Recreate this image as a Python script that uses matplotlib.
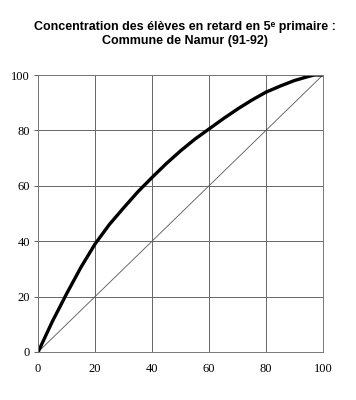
import matplotlib
matplotlib.use("Agg")
import matplotlib.pyplot as plt

# share of pupils (cumulative %) vs share of pupils behind (cumulative %)
x_pct = [0, 2.5, 5, 10, 15, 20, 25, 30, 35, 40, 45, 50, 55, 60, 65, 70, 75, 80, 85, 90, 95, 97, 100]
y_pct = [0, 5.5, 11, 21, 30.5, 39, 46, 52, 57.8, 63, 68, 72.6, 76.8, 80.5, 84.2, 87.7, 90.9, 93.8, 96, 98, 99.5, 100, 100]
ticks = [0, 20, 40, 60, 80, 100]

fig = plt.figure(figsize=(3.56, 4.0), dpi=100)
ax = fig.add_axes([0.107, 0.12, 0.8, 0.6925])

ax.plot([0, 100], [0, 100], color="#555555", lw=0.6)
ax.plot(x_pct, y_pct, color="black", lw=2.4, solid_capstyle="butt", solid_joinstyle="round")

ax.set_xlim(0, 100)
ax.set_ylim(0, 100)
ax.set_xticks(ticks)
ax.set_yticks(ticks)
ax.grid(True, color="#666666", lw=0.7)
for s in ax.spines.values():
    s.set_color("#777777")
    s.set_linewidth(0.7)
ax.tick_params(axis="y", length=3, color="#666666", labelsize=9, pad=3)
ax.tick_params(axis="x", length=0, labelsize=9, pad=8)
for lab in ax.get_xticklabels() + ax.get_yticklabels():
    lab.set_family("Liberation Serif")

fig.text(0.52, 0.915, "Concentration des élèves en retard en 5ᵉ primaire :\nCommune de Namur (91-92)",
         ha="center", va="center", fontsize=9, fontweight="bold",
         family=["Liberation Sans", "DejaVu Sans"], linespacing=1.3)

fig.savefig("out.png", dpi=100)
